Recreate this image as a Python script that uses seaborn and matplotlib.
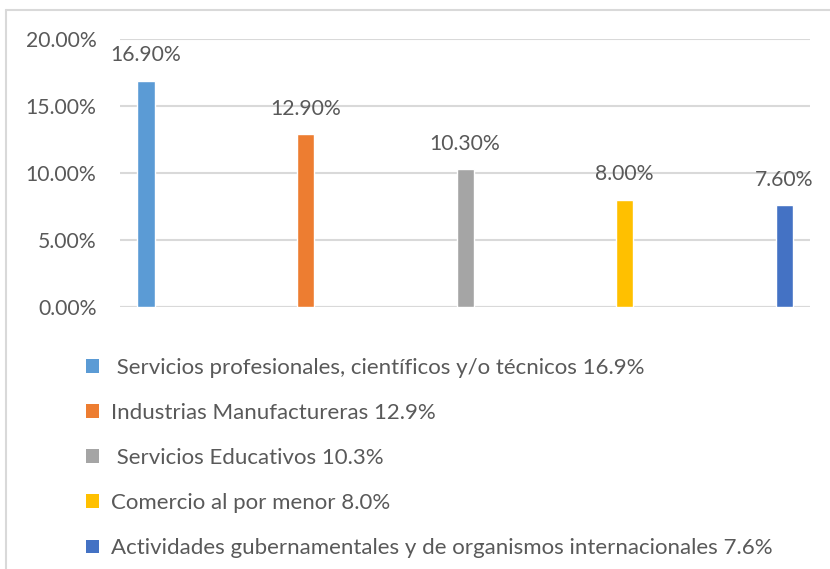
# -*- coding: utf-8 -*-
"""
Bar chart: share by economic sector (Excel-style recreation)
"""

import matplotlib
matplotlib.use("Agg")
import matplotlib.pyplot as plt
from matplotlib.patches import Patch
from matplotlib.lines import Line2D
from matplotlib.ticker import PercentFormatter
import seaborn as sns

#----------------------------------------------
''' DATA '''
#----------------------------------------------

sectores = ["Servicios profesionales", "Industrias Manufactureras",
            "Servicios Educativos", "Comercio al por menor",
            "Actividades gubernamentales"]
valores = [0.169, 0.129, 0.103, 0.080, 0.076]
etiquetas_leyenda = [
    " Servicios profesionales, científicos y/o técnicos 16.9%",
    "Industrias Manufactureras 12.9%",
    " Servicios Educativos 10.3%",
    "Comercio al por menor 8.0%",
    "Actividades gubernamentales y de organismos internacionales 7.6%",
]
colores = ["#5B9BD5", "#ED7D31", "#A5A5A5", "#FFC000", "#4472C4"]

#----------------------------------------------
''' PLOT DATA '''
#----------------------------------------------

sns.set_style("white")
plt.rcParams['font.family'] = ['Lato', 'DejaVu Sans']
texto = "#595959"

fig = plt.figure(figsize=(8.3, 5.69), dpi=100)
ax = fig.add_axes([0.1446, 0.4605, 0.976 - 0.1446, 0.9315 - 0.4605])

sns.barplot(x=sectores, y=valores, hue=sectores, palette=colores,
            width=0.107, legend=False, ax=ax, saturation=1)

for c in ax.containers:
    ax.bar_label(c, labels=[f"{v*100:.2f}%" for v in c.datavalues],
                 padding=11, fontsize=15.2, color=texto)

ax.set_xlim(-0.163, 4.163)
ax.set_ylim(0, 0.20)
ax.set_yticks([0, 0.05, 0.10, 0.15, 0.20])
ax.yaxis.set_major_formatter(PercentFormatter(1.0, decimals=2))
ax.set_xticks([])
ax.set_xlabel("")
ax.set_ylabel("")
ax.tick_params(axis='y', length=0, pad=17, labelsize=15.2, labelcolor=texto)
ax.grid(axis='y', color="#d9d9d9", linewidth=1.5)
ax.set_axisbelow(True)
for s in ax.spines.values():
    s.set_visible(False)
ax.axhline(0, color="#d9d9d9", linewidth=1.5, zorder=0)

handles = [Patch(facecolor=c, edgecolor='none') for c in colores]
fig.legend(handles, etiquetas_leyenda, loc='upper left',
           bbox_to_anchor=(0.104, 0.371), frameon=False, fontsize=16,
           labelcolor=texto, handlelength=0.59, handleheight=0.59,
           handletextpad=0.5, labelspacing=1.13, borderpad=0, borderaxespad=0)

# outer chart frame (left and top edges visible)
fig.add_artist(Line2D([0.0075, 0.0075], [0, 0.982], color="#d9d9d9", lw=1.5))
fig.add_artist(Line2D([0.0075, 1], [0.982, 0.982], color="#d9d9d9", lw=1.5))

plt.savefig("out.png", dpi=100)
